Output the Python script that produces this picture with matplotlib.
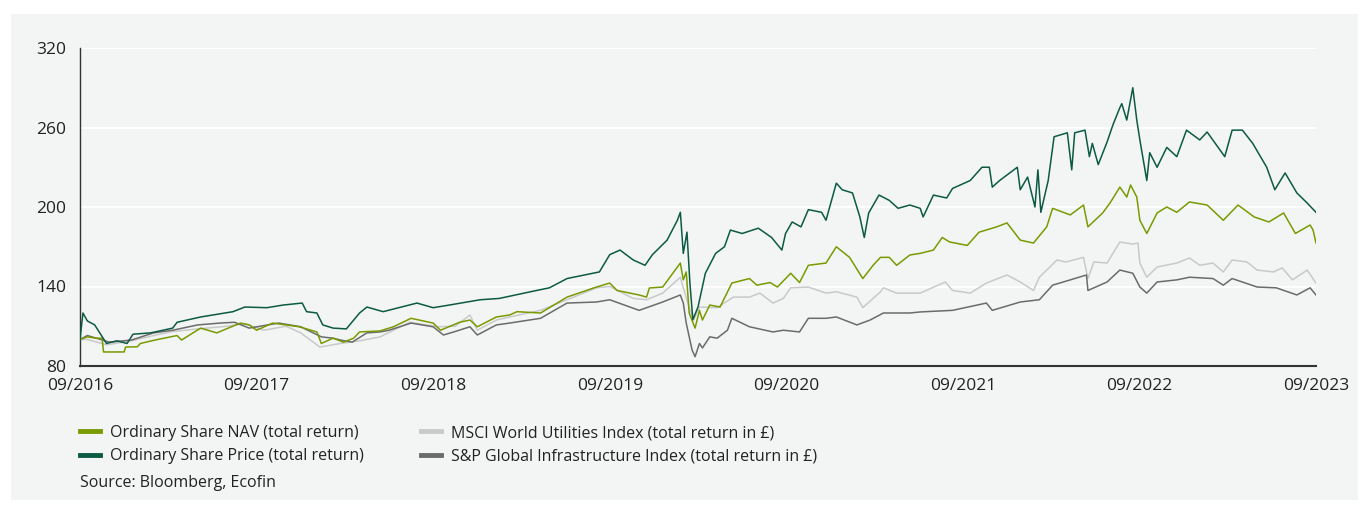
#!/usr/bin/env python
import matplotlib
matplotlib.use('Agg')
import matplotlib.pyplot as plt
from matplotlib.lines import Line2D
from matplotlib.patches import Rectangle

# months since 09/2016, values rebased to 100
price_month = [0, 0.2, 0.5, 1.0, 1.8, 2.5, 3.2, 3.6, 4.8, 6.3, 6.6, 8.2, 10.4, 11.2, 12.7, 13.8,
               15.1, 15.4, 16.1, 16.5, 17.2, 18.1, 19.0, 19.5, 20.6, 22.9, 24.0, 25.1, 27.2, 28.5,
               30.6, 31.9, 33.1, 35.3, 36.0, 36.7, 37.6, 38.4, 38.9, 39.9, 40.6, 40.8, 41.0, 41.25,
               41.45, 41.65, 42.0, 42.5, 43.2, 43.8, 44.2, 45.0, 46.1, 47.0, 47.7, 47.95, 48.4, 49.0,
               49.5, 50.4, 50.7, 51.4, 51.8, 52.5, 53.0, 53.3, 53.6, 54.3, 55.0, 55.6, 56.4, 57.1,
               57.3, 58.0, 58.9, 59.3, 60.5, 61.3, 61.8, 62.0, 62.5, 63.7, 63.9, 64.4, 64.9, 65.1,
               65.3, 65.8, 66.2, 67.1, 67.4, 67.6, 68.3, 68.6, 68.8, 69.2, 69.8, 70.2, 70.67, 70.8,
               71.14, 71.55, 71.82, 72.03, 72.5, 72.7, 73.2, 73.86, 74.54, 75.2, 76.1, 76.6, 77.8,
               78.3, 79.0, 79.7, 80.65, 81.2, 81.9, 82.7, 83.4, 84]
price_value = [100, 120, 114, 111, 97, 99, 97, 104, 105, 108.6, 113, 117, 121, 124.5, 124, 126,
               127.5, 121, 120, 111, 108.6, 108, 120, 124.5, 121, 127.5, 124, 126, 130, 131,
               136, 139, 146, 151, 164, 167.5, 160, 156, 164, 175, 190, 196, 165, 181,
               142.6, 115, 124.5, 150, 165, 170, 182.6, 180, 184, 177, 167.5, 180, 188.7, 185,
               198, 196, 190, 218, 213, 210.6, 192.5, 177, 195.5, 209, 205, 199, 201.5, 199,
               192.5, 209, 206.8, 214, 220, 230, 230, 215, 220, 230, 213, 222.6, 200, 228,
               196, 220, 253, 256, 228, 256, 258, 238, 248, 232, 249, 262, 275, 278,
               265.6, 290, 265.6, 250.6, 220, 241, 230, 245, 238, 258, 250.6, 256.6, 238,
               258, 258, 248, 230, 213, 225.7, 210.6, 203, 196]

nav_month = [0, 0.5, 1.1, 1.5, 1.6, 3.0, 3.1, 3.9, 4.1, 5.1, 6.6, 6.9, 8.2, 9.3, 10.9, 11.5, 12.0,
             13.1, 14.9, 16.1, 16.4, 17.2, 17.9, 18.6, 19.0, 20.4, 21.3, 22.5, 24.0, 24.5, 25.8,
             26.5, 27.0, 28.3, 29.2, 29.7, 31.3, 33.1, 35.1, 36.0, 36.5, 38.0, 38.5, 38.7, 39.6,
             40.8, 41.0, 41.2, 41.4, 41.8, 42.1, 42.3, 42.8, 43.5, 44.3, 45.5, 46.0, 46.9, 47.4,
             48.3, 48.9, 49.5, 50.7, 51.4, 52.3, 53.2, 53.9, 54.4, 55.0, 55.5, 56.4, 57.1, 58.0,
             58.6, 59.1, 60.3, 61.1, 62.3, 63.0, 63.9, 64.8, 65.7, 66.1, 67.3, 68.2, 68.5, 69.5,
             70.0, 70.67, 71.14, 71.4, 71.82, 72.03, 72.5, 73.2, 73.86, 74.54, 75.4, 76.6, 77.7,
             78.7, 79.8, 80.8, 81.8, 82.6, 83.6, 83.8, 84]
nav_value = [100, 102, 101, 101, 90.6, 90.6, 94.3, 94.5, 97, 99.6, 103, 99.6, 108.6, 105, 112.4, 111, 107,
             112.4, 109.6, 105.7, 97, 101, 98, 101, 105.7, 106.5, 109.6, 116, 112.4, 107, 113,
             114.7, 109.6, 117, 118.5, 121, 120, 132, 139.6, 142.6, 137, 133.6, 132, 138.9, 139.6,
             157.7, 145, 151, 120, 108.6, 122, 114.7, 126, 124.5, 142.6, 146, 141, 143, 139.6,
             150, 143, 156, 157.7, 170, 162, 146, 156, 162, 162, 156, 163.8, 165, 167.5,
             177, 173.6, 171, 181, 185, 188, 175, 172.8, 185, 199, 194, 201.5, 185, 195.5,
             203, 215, 207.5, 216.6, 207.5, 190, 180, 195.5, 200, 196, 203.8, 201.5, 190,
             201.5, 192.5, 188.7, 195.5, 180, 186.4, 182.6, 172.8]

msci_month = [0, 0.5, 1.8, 3.5, 5, 6.3, 8, 10, 11.2, 12.5, 14, 15, 16.3, 17.7, 19, 20.4, 22.4, 24.3,
              25.5, 26.5, 27, 28.3, 29.2, 31.3, 33.1, 35.1, 36, 37.6, 38.5, 39.6, 40.8, 41.0, 41.4,
              41.7, 42.1, 43.3, 44.4, 45.5, 46.2, 47.1, 47.8, 48.3, 49.5, 50.7, 51.4, 52.8, 53.2,
              54.4, 54.6, 55.5, 56.4, 57.1, 58.8, 59.3, 60.5, 61.6, 63.0, 63.9, 64.8, 65.2, 66.4,
              67.0, 68.2, 68.5, 68.9, 69.8, 70.67, 71.55, 71.9, 72.03, 72.5, 73.2, 74.54, 75.4,
              76.1, 77.0, 77.7, 78.3, 79.3, 80.0, 81.1, 81.7, 82.4, 83.4, 84]
msci_value = [100, 100, 96, 99, 103, 106, 108, 110, 112, 107, 110, 105, 94.3, 97, 99, 102, 113, 109.6,
              110, 118.5, 107, 114.7, 117, 122, 130, 139, 140, 131, 130, 135, 147, 139, 124.5,
              114.7, 124.5, 124, 132, 132, 135, 127.5, 131, 139, 139.6, 135, 136, 132, 124,
              136, 139, 135, 135, 135, 143.4, 137, 135, 142.6, 148.7, 143.4, 137, 147, 160,
              158.5, 162, 146, 158.5, 157.7, 173.6, 172, 172.8, 157.7, 147, 154.7, 157.7, 161.5,
              156, 157.7, 151, 160, 158.5, 152.4, 151, 154, 145, 152.4, 142.6]

sp_month = [0, 0.5, 2, 3.5, 5, 6.3, 8, 9.5, 10.5, 11.5, 13.5, 15, 16.4, 17.2, 17.7, 18.5, 19.5, 20.4,
            21, 22.5, 24.0, 24.7, 25.4, 26.5, 27, 28.3, 29.2, 31.3, 33.1, 35.1, 36, 38, 39.6, 40.8,
            41.0, 41.2, 41.6, 41.8, 42.1, 42.3, 42.8, 43.3, 44.0, 44.3, 45.5, 47.1, 47.8, 48.9,
            49.5, 50.7, 51.4, 52.8, 53.7, 54.6, 56.4, 57.1, 59.3, 61.6, 62.0, 63.9, 65.2, 66.1,
            67.3, 68.4, 68.5, 69.8, 70.67, 71.55, 72.03, 72.5, 73.2, 74.54, 75.4, 77.0, 77.7,
            78.3, 80.0, 81.3, 82.7, 83.6, 84]
sp_value = [100, 103, 98, 99.6, 105, 107, 111, 112.4, 113, 108.6, 112.4, 109.6, 102, 101, 99.6, 98, 105, 105.7,
            107, 112.4, 109.6, 103.4, 105.7, 109.6, 103.4, 111, 112.4, 116, 127.5, 128.3, 130, 122, 128.3, 133.6,
            127.5, 112.4, 92, 87, 97, 93.6, 102, 101, 107, 116, 109.6, 105.7, 107, 105.7,
            116, 116, 117, 111, 114.7, 120, 120, 120.8, 122, 127.5, 122, 128.3, 130, 141,
            145, 148.7, 137, 143.4, 152.4, 150, 139.6, 135, 143.4, 145, 147, 146, 141,
            146, 139.6, 139, 133.6, 139, 133.6]

tick_month = [0, 12, 24, 36, 48, 60, 72, 84]
tick_label = ['09/2016', '09/2017', '09/2018', '09/2019', '09/2020', '09/2021', '09/2022', '09/2023']
y_ticks = [80, 140, 200, 260, 320]

names = ['Ordinary Share NAV (total return)', 'Ordinary Share Price (total return)',
         'MSCI World Utilities Index (total return in £)', 'S&P Global Infrastructure Index (total return in £)']
colors = ['#7a9a01', '#0d5a44', '#c9c9c9', '#6b6b6b']

plt.rcParams['font.family'] = ['Open Sans', 'DejaVu Sans']
bg = '#f2f5f4'

fig = plt.figure(figsize=(13.62, 5.05), dpi=100)
fig.patches.append(Rectangle((11 / 1362, 5 / 505), 1347 / 1362, 486 / 505,
                             transform=fig.transFigure, facecolor=bg, edgecolor='none', zorder=-1))
ax = fig.add_axes([80 / 1362, 1 - 366 / 505, 1236 / 1362, 318 / 505])
ax.set_facecolor(bg)

ax.plot(msci_month, msci_value, color=colors[2], lw=1.1, zorder=2)
ax.plot(sp_month, sp_value, color=colors[3], lw=1.1, zorder=3)
ax.plot(nav_month, nav_value, color=colors[0], lw=1.1, zorder=4)
ax.plot(price_month, price_value, color=colors[1], lw=1.1, zorder=5)

ax.set_xlim(0, 84)
ax.set_ylim(80, 320)
ax.set_xticks(tick_month)
ax.set_xticklabels(tick_label)
ax.set_yticks(y_ticks)
ax.tick_params(length=0, labelsize=12.5, colors='#222222')
ax.tick_params(axis='x', pad=9)
ax.tick_params(axis='y', pad=10)
ax.grid(axis='y', color='white', lw=1.3)
ax.set_axisbelow(True)
for s in ['top', 'right']:
    ax.spines[s].set_visible(False)
ax.spines['left'].set_color('#333333')
ax.spines['bottom'].set_color('#333333')
ax.spines['left'].set_linewidth(1.0)
ax.spines['bottom'].set_linewidth(1.5)

handles = [Line2D([], [], color=c, lw=3.5) for c in colors]
fig.legend(handles, names, ncol=2, loc='upper left', bbox_to_anchor=(80 / 1362, 1 - 425 / 505),
           frameon=False, fontsize=11.5, handlelength=1.25, handletextpad=0.63, borderpad=0,
           borderaxespad=0, columnspacing=3.6, labelspacing=0.45, labelcolor='#222222')
fig.text(80 / 1362, 1 - 483 / 505, 'Source: Bloomberg, Ecofin', fontsize=11.5, color='#222222', va='center')

fig.savefig('out.png', dpi=100)
